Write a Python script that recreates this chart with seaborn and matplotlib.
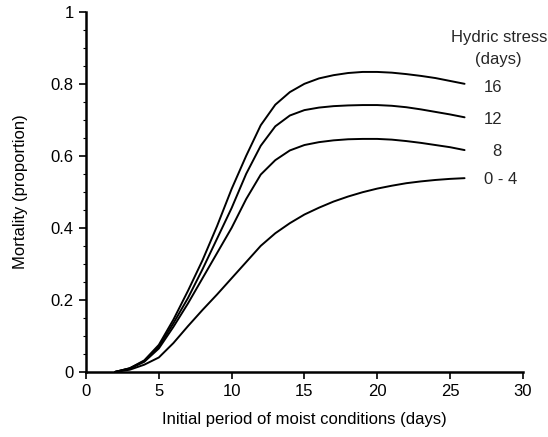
import numpy as np
import pandas as pd
import seaborn as sns
import matplotlib
matplotlib.use("Agg")
import matplotlib.pyplot as plt
from matplotlib.ticker import MultipleLocator

# initial period of moist conditions (days)
days = [2, 3, 4, 5, 6, 7, 8, 9, 10, 11, 12, 13, 14, 15, 16, 17, 18, 19, 20, 21, 22, 23, 24, 25, 26]

# mortality (proportion) for each hydric stress level
mort_16 = [0, 0.01, 0.032, 0.075, 0.145, 0.225, 0.31, 0.405, 0.508, 0.60, 0.685, 0.742, 0.777, 0.80,
           0.815, 0.824, 0.83, 0.833, 0.833, 0.831, 0.827, 0.822, 0.816, 0.808, 0.80]
mort_12 = [0, 0.01, 0.03, 0.07, 0.135, 0.205, 0.285, 0.37, 0.455, 0.55, 0.628, 0.682, 0.712, 0.727,
           0.734, 0.738, 0.74, 0.741, 0.741, 0.739, 0.735, 0.729, 0.722, 0.715, 0.707]
mort_8 = [0, 0.009, 0.028, 0.065, 0.125, 0.19, 0.26, 0.33, 0.40, 0.48, 0.548, 0.588, 0.615, 0.63,
          0.638, 0.643, 0.646, 0.647, 0.647, 0.645, 0.641, 0.636, 0.63, 0.624, 0.616]
mort_0_4 = [0, 0.006, 0.02, 0.04, 0.08, 0.127, 0.172, 0.215, 0.26, 0.305, 0.35, 0.385, 0.413, 0.437,
            0.456, 0.473, 0.487, 0.499, 0.509, 0.517, 0.524, 0.529, 0.533, 0.536, 0.538]

stress_labels = ["16", "12", "8", "0 - 4"]
series = [mort_16, mort_12, mort_8, mort_0_4]

rows = []
for lab, vals in zip(stress_labels, series):
    for d, v in zip(days, vals):
        rows.append({"days": d, "mortality": v, "stress": lab})
df = pd.DataFrame(rows)

sns.set_theme(style="ticks")
plt.rcParams['font.family'] = ['Liberation Sans', 'DejaVu Sans']

fig = plt.figure(figsize=(5.48, 4.37), dpi=100)
ax = fig.add_axes([0.157, 0.149, 0.797, 0.824])

sns.lineplot(data=df, x="days", y="mortality", hue="stress", hue_order=stress_labels,
             palette=["black"] * 4, linewidth=1.4, legend=False, ax=ax,
             solid_joinstyle="round", solid_capstyle="round")

ax.set_xlim(0, 30)
ax.set_ylim(0, 1)
ax.set_xticks([0, 5, 10, 15, 20, 25, 30])
ax.set_yticks([0, 0.2, 0.4, 0.6, 0.8, 1])
ax.set_yticklabels(["0", "0.2", "0.4", "0.6", "0.8", "1"])
ax.yaxis.set_minor_locator(MultipleLocator(0.05))
ax.tick_params(axis="both", which="major", direction="out", length=5, width=1.2,
               colors="black", labelsize=12, pad=4)
ax.tick_params(axis="y", which="minor", direction="out", length=2.5, width=0.8, colors="black")
for s in ["top", "right"]:
    ax.spines[s].set_visible(False)
for s in ["left", "bottom"]:
    ax.spines[s].set_linewidth(1.8)
    ax.spines[s].set_color("black")

ax.set_xlabel("Initial period of moist conditions (days)", fontsize=12, labelpad=9, color="black")
ax.set_ylabel("Mortality (proportion)", fontsize=12, labelpad=16, color="black")

# curve labels at the right-hand end of each line
ax.text(28.35, 0.928, "Hydric stress", ha="center", va="center", fontsize=12, clip_on=False)
ax.text(28.35, 0.867, "(days)", ha="center", va="center", fontsize=12, clip_on=False)
ax.text(27.95, 0.789, "16", ha="center", va="center", fontsize=12)
ax.text(27.95, 0.70, "12", ha="center", va="center", fontsize=12)
ax.text(28.2, 0.612, "8", ha="center", va="center", fontsize=12)
ax.text(28.5, 0.533, "0 - 4", ha="center", va="center", fontsize=12, clip_on=False)

fig.savefig("out.png", dpi=100)
